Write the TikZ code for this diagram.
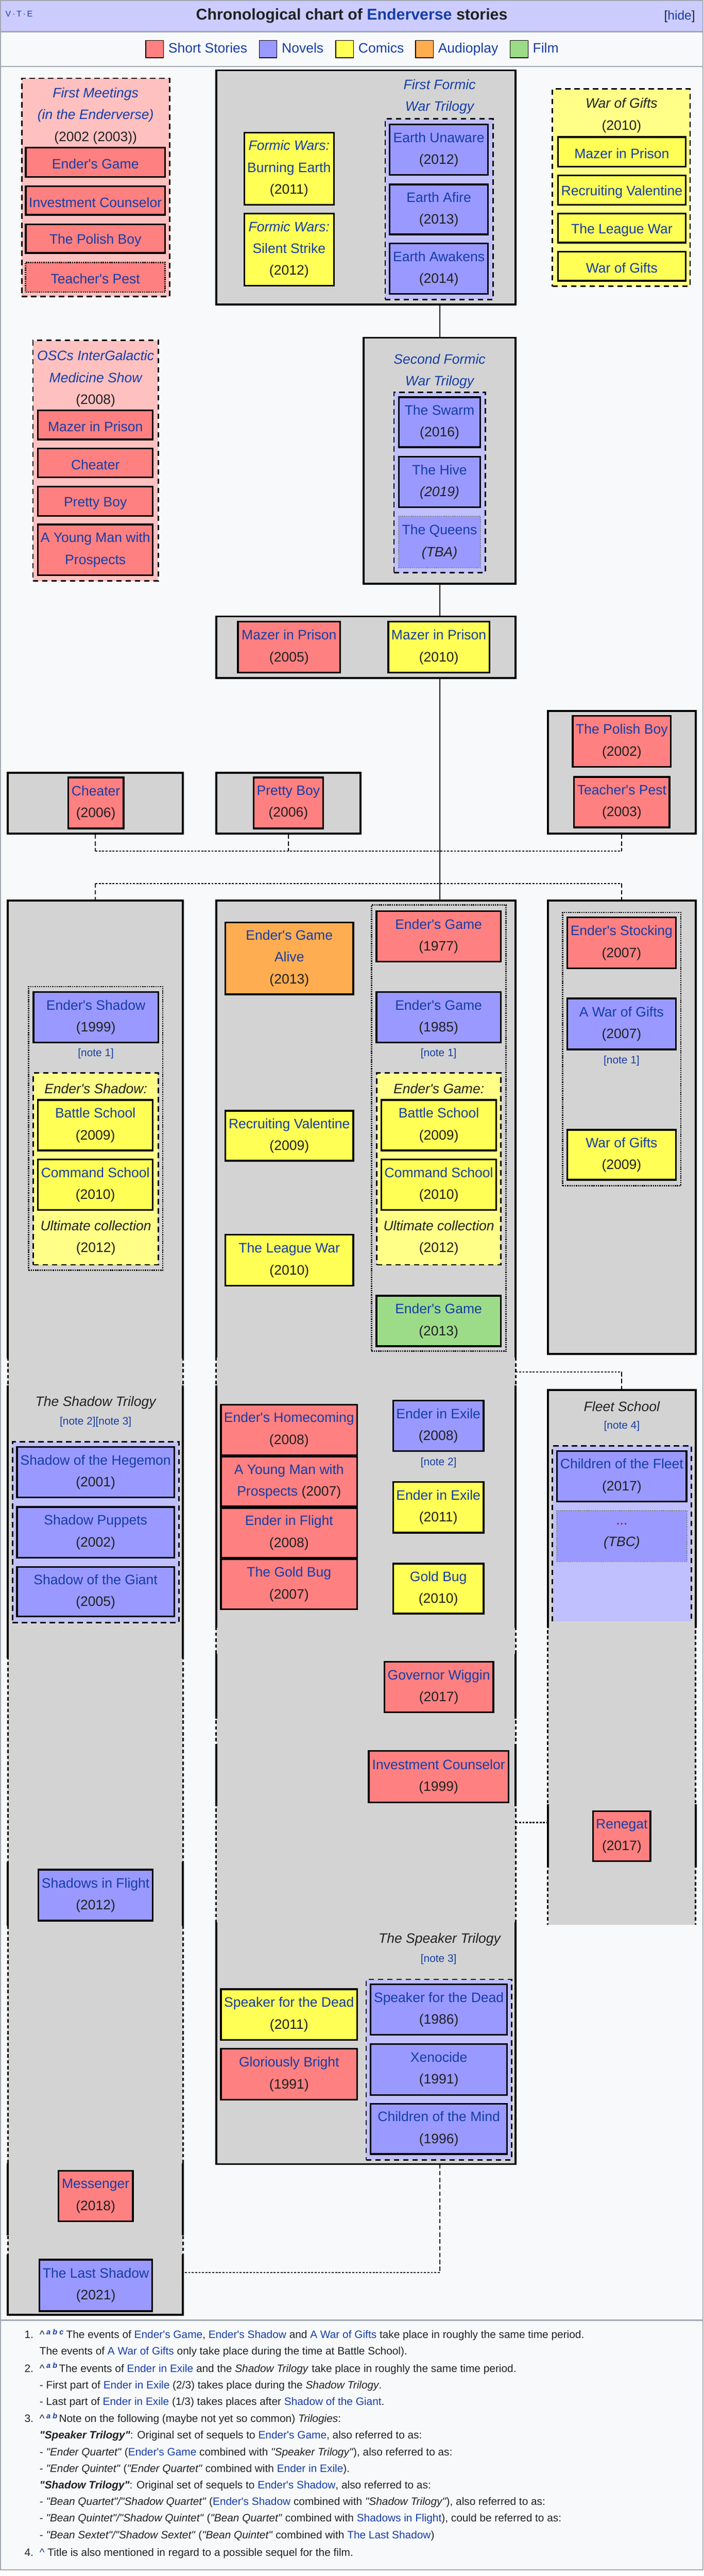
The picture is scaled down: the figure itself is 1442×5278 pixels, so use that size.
\documentclass[tikz,border=0pt]{standalone}
\usepackage{fontspec}
\setmainfont{Liberation Sans}[Ligatures=TeXOff]
\usetikzlibrary{positioning}
\definecolor{ssc}{HTML}{FF8080}
\definecolor{nvc}{HTML}{9999FF}
\definecolor{cmc}{HTML}{FFFF55}
\definecolor{apc}{HTML}{FFAD50}
\definecolor{flc}{HTML}{9CDB88}
\definecolor{pnk}{HTML}{FFC0C0}
\definecolor{lav}{HTML}{C0C0FF}
\definecolor{lyl}{HTML}{FFFF88}
\definecolor{gry}{HTML}{D3D3D3}
\definecolor{dgry}{HTML}{888888}
\definecolor{pgbg}{HTML}{F8F9FA}
\definecolor{ttlc}{HTML}{CCCCFF}
\definecolor{navc}{HTML}{A2A9B1}
\definecolor{lnk}{HTML}{163DA6}
\definecolor{ink}{HTML}{202122}
\definecolor{redlk}{HTML}{BA0000}
\newcommand{\boxfont}{\fontsize{28pt}{44.7pt}\selectfont}
\newcommand{\notefont}{\fontsize{22pt}{26pt}\selectfont}
\newcommand{\fnfont}{\fontsize{22pt}{34pt}\selectfont}
\newcommand{\lk}[1]{\textcolor{lnk}{#1}}
\newcommand{\yr}[1]{\textcolor{ink}{\upshape(#1)}}
\newcommand{\sups}[1]{\textsuperscript{\lk{\bfseries\itshape #1}}}
\begin{document}
\begin{tikzpicture}[x=1pt, y=-1pt,
  story/.style={draw, line width=3.5pt, inner sep=0pt, align=center, font=\boxfont, text=lnk, minimum height=103.5, execute at begin node={\rule{0pt}{27.5pt}}},
  short box/.style={story, fill=ssc},
  novel box/.style={story, fill=nvc},
  comic box/.style={story, fill=cmc},
  audio box/.style={story, fill=apc},
  film box/.style={story, fill=flc},
  dotted box/.style={line width=3pt, dash pattern=on 2.5pt off 2pt},
  dash group/.style={draw, line width=3pt, dash pattern=on 11pt off 8pt, inner sep=0pt},
  dot group/.style={draw, line width=3pt, dash pattern=on 2.5pt off 2pt, inner sep=0pt},
  gray box/.style={draw, line width=4pt, fill=gry, inner sep=0pt},
  column/.style={fill=gry, inner sep=0pt, outer sep=0pt},
  head/.style={align=center, font=\boxfont\itshape, text=ink, inner sep=0pt},
  note/.style={font=\notefont, text=lnk, inner sep=0pt},
  key/.style={draw, line width=1.3pt, minimum width=36.5, minimum height=35.5, inner sep=0pt},
  key text/.style={font=\boxfont, text=lnk, inner sep=0pt, text height=20pt, text depth=5pt},
  fn/.style={font=\fnfont, text=ink, anchor=base west, inner sep=0pt},
  solid side/.style={line width=4pt, line cap=rect},
  dash side/.style={line width=3pt, dash pattern=on 7pt off 5pt},
  conn/.style={line width=2pt},
  dash conn/.style={line width=2pt, dash pattern=on 9pt off 5pt},
  dot conn/.style={line width=2.5pt, dash pattern=on 4pt off 3pt}]
\useasboundingbox (0,0) rectangle (1442,5278);
\fill[white] (0,0) rectangle (1442,5278);
\fill[pgbg] (1,1) rectangle (1441,5266);
\fill[ttlc] (1,1) rectangle (1441,65);
\draw[navc, line width=2.5pt] (1.25,1.25) rectangle (1440.75,5265.5)
  (1,65) -- (1441,65) (1,136) -- (1441,136) (1,4754) -- (1441,4754);

% title and legend
\node[anchor=base, font=\fontsize{32pt}{38pt}\selectfont\bfseries, text=ink] (title) at (721,41) {Chronological chart of \lk{Enderverse} stories};
\node[anchor=base west, font=\fontsize{17pt}{20pt}\selectfont, text=lnk, inner sep=0pt] (vte) at (11,34) {V\,·\,T\,·\,E};
\node[anchor=base east, font=\fontsize{26pt}{30pt}\selectfont, text=ink, inner sep=0pt] (hide) at (1425,41) {[\lk{hide}]};
\node[key, fill=ssc] (key1) at (317,100.5) {};
\node[key text, right=9pt of key1] (lab1) {Short Stories};
\node[key, fill=nvc] (key2) at (549.5,100.5) {};
\node[key text, right=9pt of key2] (lab2) {Novels};
\node[key, fill=cmc] (key3) at (706.5,100.5) {};
\node[key text, right=9pt of key3] (lab3) {Comics};
\node[key, fill=apc] (key4) at (870,100.5) {};
\node[key text, right=9pt of key4] (lab4) {Audioplay};
\node[key, fill=flc] (key5) at (1064,100.5) {};
\node[key text, right=9pt of key5] (lab5) {Film};

% first meetings
\node[dash group, fill=pnk, minimum width=303, minimum height=447] (fm) at (196,384) {};
\node[head, text=lnk] (fmt) at (196,237.5) {First Meetings\\(in the Enderverse)\\\yr{2002 (2003)}};
\node[short box, minimum width=285.5, minimum height=59.5] (fm1) at (195.5,332.5) {Ender's Game};
\node[short box, minimum width=285.5, minimum height=58.5] (fm2) at (195.5,411) {Investment Counselor};
\node[short box, minimum width=285.5, minimum height=58.5] (fm3) at (195.5,489) {The Polish Boy};
\node[short box, dotted box, minimum width=286, minimum height=61] (fm4) at (195.5,568) {Teacher's Pest};

% first formic war
\node[gray box, minimum width=614, minimum height=480] (ff) at (750,384) {};
\node[head, text=lnk] (fft) at (901,198) {First Formic\\War Trilogy};
\node[comic box, minimum width=183.5, minimum height=147.5] (fw1) at (592.5,345.5) {\textit{Formic Wars:}\\Burning Earth\\\yr{2011}};
\node[comic box, minimum width=183.5, minimum height=147.5] (fw2) at (592.5,511.5) {\textit{Formic Wars:}\\Silent Strike\\\yr{2012}};
\node[dash group, fill=lav, minimum width=221, minimum height=370] (ffn) at (900,428.5) {};
\node[novel box, minimum width=201.5] (eu) at (899.5,306.5) {Earth Unaware\\\yr{2012}};
\node[novel box, minimum width=201.5, minimum height=102.5] (ea) at (899.5,429) {Earth Afire\\\yr{2013}};
\node[novel box, minimum width=201.5] (ew) at (899.5,550.5) {Earth Awakens\\\yr{2014}};

% war of gifts comics
\node[dash group, fill=lyl, minimum width=282, minimum height=404] (wog) at (1273.5,384.5) {};
\node[head] (wogt) at (1274,236.5) {War of Gifts\\\yr{2010}};
\node[comic box, minimum width=261.5, minimum height=60.5] (mp) at (1274.5,311) {Mazer in Prison};
\node[comic box, minimum width=261.5, minimum height=59.5] (rv) at (1274.5,389.5) {Recruiting Valentine};
\node[comic box, minimum width=261.5, minimum height=59.5] (lw) at (1274.5,467.5) {The League War};
\node[comic box, minimum width=261.5, minimum height=59.5] (wg) at (1274.5,545.5) {War of Gifts};

% intergalactic medicine show
\node[dash group, fill=pnk, minimum width=257, minimum height=493] (ig) at (196,944) {};
\node[head, text=lnk] (igt) at (196,776) {OSCs InterGalactic\\Medicine Show\\\yr{2008}};
\node[short box, minimum width=235.5, minimum height=59.5] (ig1) at (195.5,870.5) {Mazer in Prison};
\node[short box, minimum width=235.5, minimum height=59.5] (ig2) at (195.5,948.5) {Cheater};
\node[short box, minimum width=235.5, minimum height=60.5] (ig3) at (195.5,1027) {Pretty Boy};
\node[short box, minimum width=235.5] (ig4) at (195.5,1126.5) {A Young Man with\\Prospects};

% second formic war
\node[gray box, minimum width=312, minimum height=504] (sf) at (901,944) {};
\node[head, text=lnk] (sft) at (901,761) {Second Formic\\War Trilogy};
\node[dash group, fill=lav, minimum width=187, minimum height=370] (sfn) at (901,988.5) {};
\node[novel box, minimum width=166.5, minimum height=102.5] (swm) at (901,865) {The Swarm\\\yr{2016}};
\node[novel box, minimum width=166.5] (hv) at (901,987.5) {The Hive\\\textcolor{ink}{\itshape(2019)}};
\node[novel box, dotted box, draw=dgry, line width=2pt, minimum width=168, minimum height=105] (qn) at (901,1110.5) {The Queens\\\textcolor{ink}{\itshape(TBA)}};

% mazer in prison
\node[gray box, minimum width=614, minimum height=126] (mz) at (750,1326) {};
\node[short box, minimum width=209.5, minimum height=104.5] (mz1) at (592.5,1326) {Mazer in Prison\\\yr{2005}};
\node[comic box, minimum width=207.5, minimum height=104.5] (mz2) at (899.5,1326) {Mazer in Prison\\\yr{2010}};

% single stories
\node[gray box, minimum width=303, minimum height=251] (pb) at (1274.5,1582.5) {};
\node[short box, minimum width=201.5, minimum height=104.5] (pb1) at (1274.5,1519) {The Polish Boy\\\yr{2002}};
\node[short box, minimum width=195.5] (pb2) at (1274.5,1643.5) {Teacher's Pest\\\yr{2003}};
\node[gray box, minimum width=359, minimum height=125] (ch) at (195.5,1645.5) {};
\node[short box, minimum width=113.5, minimum height=104.5] (ch1) at (196.5,1645) {Cheater\\\yr{2006}};
\node[gray box, minimum width=296, minimum height=125] (py) at (591,1645.5) {};
\node[short box, minimum width=142.5, minimum height=104.5] (py1) at (591,1645) {Pretty Boy\\\yr{2006}};

% the three columns
\node[column, minimum width=359, minimum height=2898] (lc) at (195.5,3294) {};
\node[column, minimum width=614, minimum height=2589] (cc) at (750,3139.5) {};
\node[gray box, minimum width=303, minimum height=929] (rc) at (1274.5,2309.5) {};
\node[column, minimum width=303, minimum height=1096] (fs) at (1274.5,3396) {};
\draw[dash side] (lc.north west) -- (lc.south west) (lc.north east) -- (lc.south east)
  (cc.north west) -- (cc.south west) (cc.north east) -- (cc.south east)
  (fs.north west) -- (fs.south west) (fs.north east) -- (fs.south east);
\draw[solid side] (lc.north west) -- (lc.north east) (lc.south west) -- (lc.south east)
  (cc.north west) -- (cc.north east) (cc.south west) -- (cc.south east)
  (fs.north west) -- (fs.north east);
% solid stretches of the sides
\draw[solid side] (16,1845) -- (16,2782) (16,2840) -- (16,3396) (16,3817) -- (16,3944) (16,4434) -- (16,4578) (16,4621) -- (16,4743)
  (375,1845) -- (375,2782) (375,2840) -- (375,3396) (375,3817) -- (375,3944) (375,4434) -- (375,4578) (375,4621) -- (375,4743);
\draw[solid side] (443,1845) -- (443,2779) (443,2840) -- (443,3334) (443,3390) -- (443,3519) (443,3575) -- (443,3699) (443,3940) -- (443,4434)
  (1057,1845) -- (1057,2779) (1057,2840) -- (1057,3334) (1057,3390) -- (1057,3519) (1057,3575) -- (1057,3699) (1057,3940) -- (1057,4434);
\draw[solid side] (1123,2848) -- (1123,3334) (1123,3699) -- (1123,3825)
  (1426,2848) -- (1426,3334) (1426,3699) -- (1426,3825);

% left column
\node[dot group, minimum width=275, minimum height=581] (ldg) at (196,2312) {};
\node[novel box, minimum width=255.5] (es) at (196.5,2084.5) {Ender's Shadow\\\yr{1999}};
\node[note] (esn) at (196.5,2159) {[note 1]};
\node[dash group, fill=lyl, minimum width=256, minimum height=393] (esg) at (196.5,2395) {};
\node[head] (esgt) at (196.5,2231) {Ender's Shadow:};
\node[comic box, minimum width=235.5] (esb) at (195.5,2305.5) {Battle School\\\yr{2009}};
\node[comic box, minimum width=235.5] (ecs) at (195.5,2427.5) {Command School\\\yr{2010}};
\node[head] (esu) at (196.5,2536) {Ultimate collection\\\yr{2012}};
\node[head] (stt) at (196,2874) {The Shadow Trilogy};
\node[note] (stn) at (196,2914) {[note 2][note 3]};
\node[dash group, fill=lav, minimum width=341, minimum height=370] (stg) at (196,3139.5) {};
\node[novel box, minimum width=322.5] (sh) at (196,3016.5) {Shadow of the Hegemon\\\yr{2001}};
\node[novel box, minimum width=322.5] (sp) at (196,3139.5) {Shadow Puppets\\\yr{2002}};
\node[novel box, minimum width=322.5, minimum height=101.5] (sg) at (196,3261.5) {Shadow of the Giant\\\yr{2005}};
\node[novel box, minimum width=234.5, minimum height=104.5] (si) at (196,3883) {Shadows in Flight\\\yr{2012}};
\node[short box, minimum width=152.5] (ms) at (196,4499.5) {Messenger\\\yr{2018}};
\node[novel box, minimum width=231.5, minimum height=105.5] (ls) at (196.5,4682.5) {The Last Shadow\\\yr{2021}};

% centre column
\node[audio box, minimum width=262.5, minimum height=147.5] (ega) at (593,1963.5) {Ender's Game\\Alive\\\yr{2013}};
\node[dot group, minimum width=276, minimum height=914] (cdg) at (899.5,2311.5) {};
\node[short box, minimum width=254.5] (eg1) at (899,1918.5) {Ender's Game\\\yr{1977}};
\node[novel box, minimum width=254.5] (eg2) at (899,2084.5) {Ender's Game\\\yr{1985}};
\node[note] (egn) at (899,2159) {[note 1]};
\node[dash group, fill=lyl, minimum width=254, minimum height=393] (egg) at (899.5,2395) {};
\node[head] (eggt) at (899.5,2231) {Ender's Game:};
\node[comic box, minimum width=235.5] (egb) at (899.5,2305.5) {Battle School\\\yr{2009}};
\node[comic box, minimum width=235.5] (egs) at (899.5,2427.5) {Command School\\\yr{2010}};
\node[head] (egu) at (899.5,2536) {Ultimate collection\\\yr{2012}};
\node[film box, minimum width=254.5] (egf) at (899,2706.5) {Ender's Game\\\yr{2013}};
\node[comic box, minimum width=262.5, minimum height=102.5] (rvc) at (593,2327) {Recruiting Valentine\\\yr{2009}};
\node[comic box, minimum width=262.5, minimum height=104.5] (lwc) at (593,2582) {The League War\\\yr{2010}};
\node[short box, minimum width=279.5] (eh) at (592.5,2929.5) {Ender's Homecoming\\\yr{2008}};
\node[short box, minimum width=279.5, minimum height=101.5] (ym) at (592.5,3035.5) {A Young Man with\\Prospects \yr{2007}};
\node[short box, minimum width=279.5, minimum height=101.5] (ef) at (592.5,3140.5) {Ender in Flight\\\yr{2008}};
\node[short box, minimum width=279.5, minimum height=102.5] (gb) at (592.5,3246) {The Gold Bug\\\yr{2007}};
\node[novel box, minimum width=185.5] (ex1) at (898.5,2921.5) {Ender in Exile\\\yr{2008}};
\node[note] (exn) at (899,2997) {[note 2]};
\node[comic box, minimum width=185.5] (ex2) at (898.5,3088.5) {Ender in Exile\\\yr{2011}};
\node[comic box, minimum width=185.5, minimum height=102.5] (gbc) at (898.5,3255) {Gold Bug\\\yr{2010}};
\node[short box, minimum width=223.5] (gw) at (899.5,3456.5) {Governor Wiggin\\\yr{2017}};
\node[short box, minimum width=286.5, minimum height=105.5] (ic) at (899,3640.5) {Investment Counselor\\\yr{1999}};
\node[head] (spt) at (901,3974) {The Speaker Trilogy};
\node[note] (spn) at (899,4015) {[note 3]};
\node[comic box, minimum width=279.5] (sfc) at (592.5,4127.5) {Speaker for the Dead\\\yr{2011}};
\node[short box, minimum width=279.5, minimum height=104.5] (gbr) at (592.5,4250) {Gloriously Bright\\\yr{1991}};
\node[dash group, fill=lav, minimum width=298, minimum height=370] (spg) at (899.5,4240.5) {};
\node[novel box, minimum width=279.5] (sd) at (899.5,4117.5) {Speaker for the Dead\\\yr{1986}};
\node[novel box, minimum width=279.5, minimum height=104.5] (xn) at (899.5,4240) {Xenocide\\\yr{1991}};
\node[novel box, minimum width=279.5, minimum height=102.5] (cm) at (899.5,4362) {Children of the Mind\\\yr{1996}};

% right column
\node[dot group, minimum width=242, minimum height=560] (rdg) at (1274.5,2149.5) {};
\node[short box, minimum width=222.5, minimum height=104.5] (est) at (1274,1932) {Ender's Stocking\\\yr{2007}};
\node[novel box, minimum width=222.5, minimum height=104.5] (awg) at (1274,2098) {A War of Gifts\\\yr{2007}};
\node[note] (awn) at (1274,2174) {[note 1]};
\node[comic box, minimum width=222.5, minimum height=102.5] (wg9) at (1274,2366) {War of Gifts\\\yr{2009}};
\node[head] (fst) at (1274.5,2882) {Fleet School};
\node[note] (fsn) at (1274.5,2922) {[note 4]};
\node[column, fill=lav, minimum width=285, minimum height=359.5] (fg) at (1275,3142.25) {};
\draw[line width=3pt, dash pattern=on 11pt off 8pt] (fg.south west) -- (fg.north west) -- (fg.north east) -- (fg.south east);
\node[novel box, minimum width=265.5] (cf) at (1274.5,3024.5) {Children of the Fleet\\\yr{2017}};
\node[novel box, dotted box, draw=dgry, line width=2pt, minimum width=267, minimum height=105] (tbc) at (1274.5,3147.5) {\textcolor{redlk}{...}\\\textcolor{ink}{\itshape(TBC)}};
\node[short box, minimum width=117.5, minimum height=102.5] (rn) at (1274.5,3762) {Renegat\\\yr{2017}};

% connectors
\coordinate (j1) at (196,1744);
\coordinate (j2) at (196,1810);
\coordinate (r1) at (1275,2811);
\coordinate (r2) at (1121,3734);
\coordinate (b1) at (901,4656);
\path[conn] (ff.south -| sf.north) edge (sf.north)
  (sf.south) edge (mz.north -| sf.south)
  (mz.south -| sf.south) edge (cc.north -| sf.south);
\path[dash conn] (ch.south) edge (ch.south |- j1)
  (py.south) edge (py.south |- j1)
  (pb.south) edge (pb.south |- j1)
  (ch.south |- j2) edge (lc.north)
  (pb.south |- j2) edge (rc.north)
  (fs.north |- r1) edge (fs.north)
  (cc.south -| b1) edge (b1);
\path[dot conn] (ch.south |- j1) edge (pb.south |- j1)
  (ch.south |- j2) edge (pb.south |- j2)
  (cc.east |- r1) edge (fs.north |- r1)
  (cc.east |- r2) edge (fs.west |- r2)
  (b1) edge (lc.east |- b1);

% notes
\node[fn] (n1) at (50,4791) {1.};
\node[fn] (t1) at (81,4791) {\textasciicircum\,\sups{a b c}\hspace{5pt}The events of \lk{Ender's Game}, \lk{Ender's Shadow} and \lk{A War of Gifts} take place in roughly the same time period.};
\node[fn] (t2) at (81,4825) {The events of \lk{A War of Gifts} only take place during the time at Battle School).};
\node[fn] (n2) at (50,4860) {2.};
\node[fn] (t3) at (81,4860) {\textasciicircum\,\sups{a b}\hspace{3pt}The events of \lk{Ender in Exile} and the \textit{Shadow Trilogy} take place in roughly the same time period.};
\node[fn] (t4) at (81,4894) {- First part of \lk{Ender in Exile} (2/3) takes place during the \textit{Shadow Trilogy}.};
\node[fn] (t5) at (81,4928) {- Last part of \lk{Ender in Exile} (1/3) takes places after \lk{Shadow of the Giant}.};
\node[fn] (n3) at (50,4963) {3.};
\node[fn] (t6) at (81,4963) {\textasciicircum\,\sups{a b}\hspace{3pt}Note on the following (maybe not yet so common) \textit{Trilogies}:};
\node[fn] (t7) at (81,4997) {\textbf{\textit{"Speaker Trilogy"}}: Original set of sequels to \lk{Ender's Game}, also referred to as:};
\node[fn] (t8) at (81,5031) {- \textit{"Ender Quartet"} (\lk{Ender's Game} combined with \textit{"Speaker Trilogy"}), also referred to as:};
\node[fn] (t9) at (81,5065) {- \textit{"Ender Quintet"} (\textit{"Ender Quartet"} combined with \lk{Ender in Exile}).};
\node[fn] (t10) at (81,5099) {\textbf{\textit{"Shadow Trilogy"}}: Original set of sequels to \lk{Ender's Shadow}, also referred to as:};
\node[fn] (t11) at (81,5133) {- \textit{"Bean Quartet"/"Shadow Quartet"} (\lk{Ender's Shadow} combined with \textit{"Shadow Trilogy"}), also referred to as:};
\node[fn] (t12) at (81,5167) {- \textit{"Bean Quintet"/"Shadow Quintet"} (\textit{"Bean Quartet"} combined with \lk{Shadows in Flight}), could be referred to as:};
\node[fn] (t13) at (81,5201) {- \textit{"Bean Sextet"/"Shadow Sextet"} (\textit{"Bean Quintet"} combined with \lk{The Last Shadow})};
\node[fn] (n4) at (50,5237) {4.};
\node[fn] (t14) at (81,5237) {\lk{\textasciicircum} Title is also mentioned in regard to a possible sequel for the film.};
\end{tikzpicture}
\end{document}
